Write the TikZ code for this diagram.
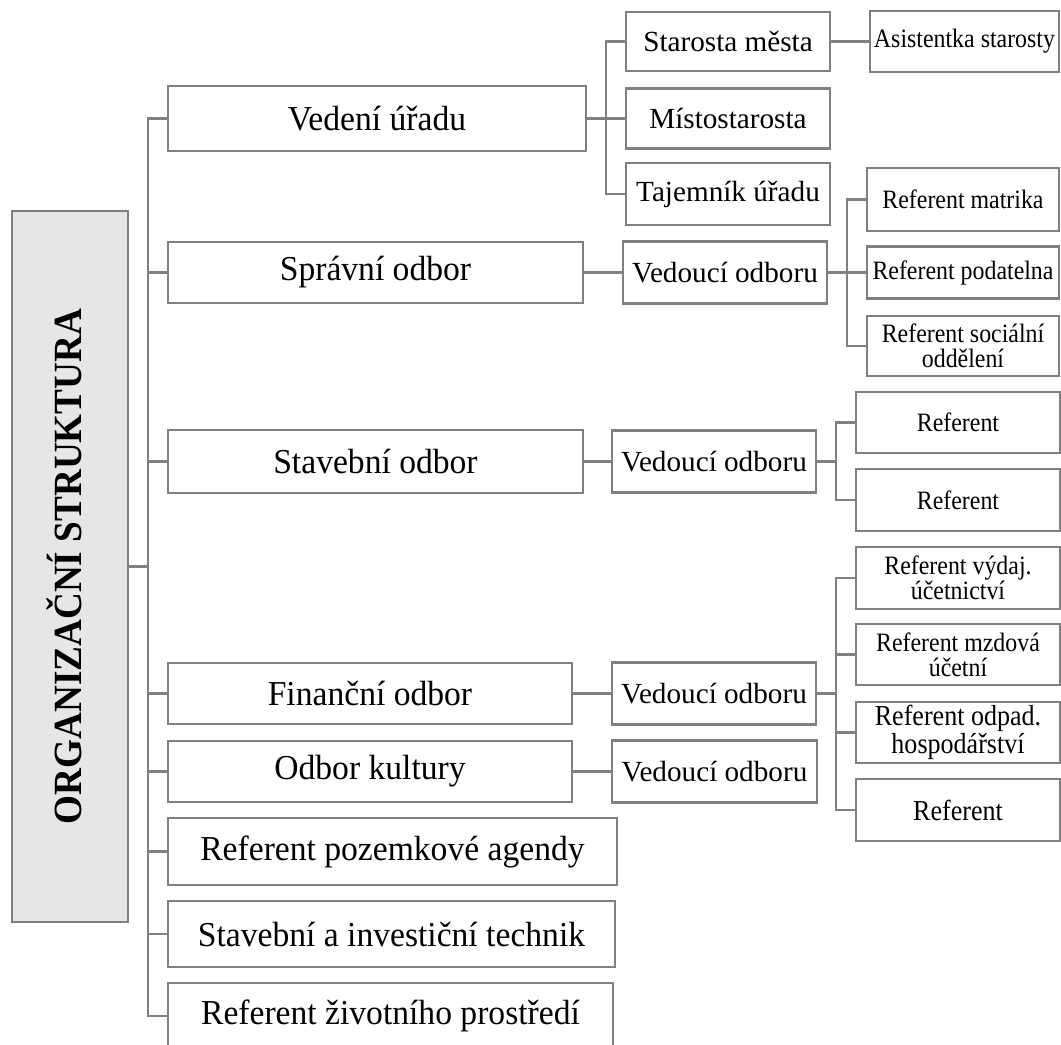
\documentclass[tikz,border=0pt]{standalone}
\usepackage{fontspec}
\setmainfont{Liberation Serif}
\newfontfamily\rootserif[FakeStretch=0.93]{Liberation Serif}
\newfontfamily\oneserif[FakeStretch=0.96]{Liberation Serif}
\newfontfamily\narrowserif[FakeStretch=0.9]{Liberation Serif}
\usetikzlibrary{positioning}

\definecolor{linegray}{RGB}{127,127,127}
\definecolor{rootfill}{RGB}{230,230,230}
\newcommand{\lvlroot}{\rootserif\fontsize{30}{32}\bfseries\selectfont}
\newcommand{\lvlone}{\oneserif\fontsize{26.25}{28}\selectfont}
\newcommand{\lvltwo}{\fontsize{21.9}{24}\selectfont}
\newcommand{\lvlthree}{\narrowserif\fontsize{19.9}{18.5}\selectfont}
\newcommand{\lvlthreeb}{\narrowserif\fontsize{21.7}{18.5}\selectfont}
\tikzset{
  box/.style 2 args={draw=linegray,line width=2pt,fill=white,inner sep=0pt,
    align=center,text=black,minimum width=#1*0.75pt,minimum height=#2*0.75pt},
  conn/.style={draw=linegray,line width=2pt}
}

\begin{document}
\begin{tikzpicture}[line cap=rect,line join=miter,x=0.75pt,y=-0.75pt]
  \useasboundingbox (0,0) rectangle (1061,1045);
  % koren
  \node[box={116}{711},fill=rootfill] (root) at (70,566.5)
    {\hspace*{-2pt}\rotatebox{90}{\lvlroot\vphantom{X}\smash{ORGANIZAČNÍ STRUKTURA}}};
  % prvni uroven
  \node[box={418}{65},font=\lvlone] (ved) at (377,118.5) {Vedení úřadu};
  \node[box={415}{61},font=\lvlone] (spr) at (375.5,272.5) {Správní odbor};
  \node[box={415}{63},font=\lvlone] (stav) at (375.5,461.5) {Stavební odbor};
  \node[box={404}{61},font=\lvlone] (fin) at (370,693.5) {Finanční odbor};
  \node[box={404}{61},font=\lvlone] (kul) at (370,771.5) {Odbor kultury};
  \node[box={449}{67},font=\lvlone] (poz) at (392.5,851.5) {Referent pozemkové agendy};
  \node[box={447}{66},font=\lvlone] (sit) at (391.5,934) {Stavební a investiční technik};
  \node[box={445}{66},font=\lvlone] (ziv) at (390.5,1016) {Referent životního prostředí};
  % druha uroven
  \node[box={204}{59},font=\lvltwo] (star) at (728,41.5) {Starosta města};
  \node[box={204}{60},font=\lvltwo] (mist) at (728,118.5) {Místostarosta};
  \node[box={204}{62},font=\lvltwo] (taj) at (728,194) {Tajemník úřadu};
  \node[box={189}{61},font=\lvlthree] (asist) at (964.5,41.5) {Asistentka starosty};
  \node[box={204}{62},font=\lvltwo] (vspr) at (725,272.5) {Vedoucí odboru};
  \node[box={204}{62},font=\lvltwo] (vstav) at (714,461.5) {Vedoucí odboru};
  \node[box={204}{62},font=\lvltwo] (vfin) at (714,693.5) {Vedoucí odboru};
  \node[box={205}{62},font=\lvltwo] (vkul) at (714.5,771.5) {Vedoucí odboru};
  % treti uroven
  \node[box={192}{63},font=\lvlthree] (rmat) at (963,199.5) {Referent matrika};
  \node[box={192}{52},font=\lvlthree] (rpod) at (963,272.5) {Referent podatelna};
  \node[box={192}{60},font=\lvlthree] (rsoc) at (963,346) {Referent sociální\\oddělení};
  \node[box={204}{61},font=\lvlthree] (rst1) at (958,422.5) {Referent};
  \node[box={204}{62},font=\lvlthree] (rst2) at (958,500) {Referent};
  \node[box={204}{62},font=\lvlthree] (rvyd) at (958,578) {Referent výdaj.\\účetnictví};
  \node[box={204}{61},font=\lvlthree] (rmzd) at (958,654.5) {Referent mzdová\\účetní};
  \node[box={204}{61},font=\lvlthreeb] (rodp) at (958,732.5) {Referent odpad.\\hospodářství};
  \node[box={204}{62},font=\lvlthreeb] (rref) at (958,810) {Referent};
  % svisle vetve
  \coordinate (tr) at (148,0);
  \coordinate (sub1) at (606,0);
  \coordinate (sub2) at (847,0);
  \coordinate (sub3) at (836,0);
  \draw[conn] (ved.west) -| (tr |- ziv.west) -- (ziv.west);
  \draw[conn] (root.east) -- (root.east -| tr);
  \foreach \n in {spr,stav,fin,kul,poz,sit}
    \draw[conn] (\n.west) -- (\n.west -| tr);
  % vedeni uradu
  \draw[conn] (star.west) -| (sub1 |- taj.west) -- (taj.west);
  \draw[conn] (ved.east) -- (mist.west);
  \draw[conn] (star.east) -- (asist.west);
  % spravni odbor
  \draw[conn] (spr.east) -- (vspr.west);
  \draw[conn] (rmat.west) -| (sub2 |- rsoc.west) -- (rsoc.west);
  \draw[conn] (vspr.east) -- (rpod.west);
  % stavebni odbor
  \draw[conn] (stav.east) -- (vstav.west);
  \draw[conn] (rst1.west) -| (sub3 |- rst2.west) -- (rst2.west);
  \draw[conn] (vstav.east) -- (vstav.east -| sub3);
  % financni odbor a kultura
  \draw[conn] (fin.east) -- (vfin.west);
  \draw[conn] (rvyd.west) -| (sub3 |- rref.west) -- (rref.west);
  \foreach \n in {rmzd,rodp}
    \draw[conn] (\n.west) -- (\n.west -| sub3);
  \draw[conn] (vfin.east) -- (vfin.east -| sub3);
  \draw[conn] (kul.east) -- (vkul.west);
\end{tikzpicture}
\end{document}
